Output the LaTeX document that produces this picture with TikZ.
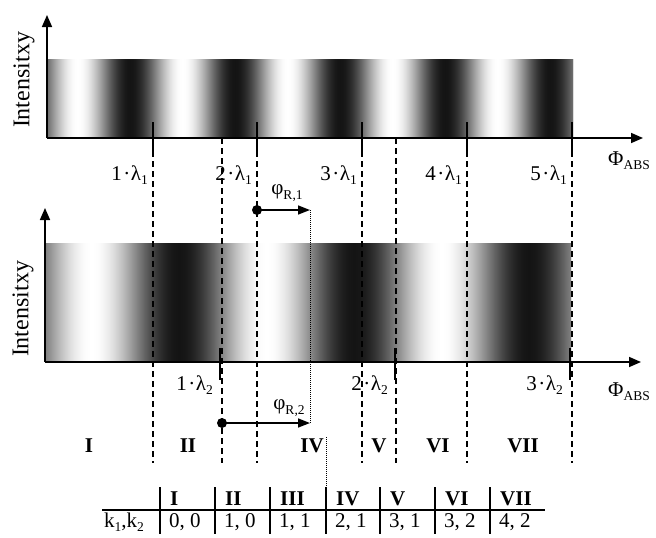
\documentclass[tikz,border=0pt]{standalone}
\usepackage{fontspec}
\setmainfont{Liberation Serif}
\usetikzlibrary{arrows.meta}
\newcommand\figfont{\fontsize{21}{24}\selectfont}
\newcommand\lowsub[1]{\raisebox{-0.22em}{\fontsize{13.5}{14}\selectfont #1}}
\newcommand\mlab[2]{#1\kern1.5pt·\kern0.5ptλ\lowsub{#2}}
\begin{document}
\begin{tikzpicture}[x=1pt,y=-1pt,
  font=\figfont,
  axisline/.style={line width=1.6pt,-{Triangle[length=12pt,width=10pt]}},
  tickmark/.style={line width=1.7pt},
  divider/.style={line width=1.3pt,dash pattern=on 6pt off 4pt},
  guide/.style={line width=0.7pt,dash pattern=on 0.8pt off 1.2pt},
  shiftarrow/.style={line width=1.6pt,-{Triangle[length=12pt,width=9pt]}},
  ticklabel/.style={inner sep=0pt,anchor=base east},
  region/.style={inner sep=0pt,font=\figfont\bfseries},
  cell/.style={inner sep=0pt,anchor=base west},
  ylabel/.style={rotate=90,inner sep=0pt,font=\fontsize{24}{27}\selectfont}]
\useasboundingbox (0,0) rectangle (656,538);

% ---- fringe bands: cosine intensity profiles ----
\begin{scope}
  \clip (47,59) rectangle (573,138);
  \foreach \i in {0,...,526}{
    \pgfmathsetmacro\k{46+46*cos((\i-83)*(360/105))}
    \fill[black!\k] (47+\i,59) rectangle (48.8+\i,138);
  }
\end{scope}
\begin{scope}
  \clip (45,243) rectangle (571,362);
  \foreach \i in {0,...,526}{
    \pgfmathsetmacro\k{46+46*cos((\i-134)*(360/175))}
    \fill[black!\k] (45+\i,243) rectangle (46.8+\i,362);
  }
\end{scope}

% ---- axes ----
\coordinate (oa) at (47,138);
\coordinate (ya) at (47,15);
\coordinate (xa) at (643,138);
\coordinate (ob) at (45,362);
\coordinate (yb) at (45,208);
\coordinate (xb) at (641,362);
\draw[axisline] (oa) -- (ya);
\draw[axisline] (oa) -- (xa);
\draw[axisline] (ob) -- (yb);
\draw[axisline] (ob) -- (xb);

\node[ylabel] (ia) at (24,80) {Intensitxy};
\node[ylabel] (ib) at (23,309) {Intensitxy};
\node[inner sep=0pt,anchor=base west] (pa) at (608,165) {Φ\lowsub{ABS}};
\node[inner sep=0pt,anchor=base west] (pb) at (608,396) {Φ\lowsub{ABS}};

% ---- tick marks and their labels ----
\foreach \x/\n in {153/1,257/2,362/3,467/4,572/5}{
  \coordinate (ta\n) at (\x,122);
  \coordinate (tb\n) at (\x,151);
  \draw[tickmark] (ta\n) -- (tb\n);
  \node[ticklabel] (la\n) at (\x-5,180) {\mlab{\n}{1}};
}
\foreach \x/\n in {220/1,395/2,570/3}{
  \coordinate (sa\n) at (\x,348);
  \coordinate (sb\n) at (\x,380);
  \draw[tickmark] (sa\n) -- (sb\n);
  \node[ticklabel] (lb\n) at (\x-7,390) {\mlab{\n}{2}};
}

% ---- region dividers ----
\foreach \x/\y/\n in {153/151/1,257/151/2,362/151/3,467/151/4,572/151/5,222/138/6,396/138/7}{
  \coordinate (du\n) at (\x,\y);
  \coordinate (dl\n) at (\x,463);
  \draw[divider] (du\n) -- (dl\n);
}

% ---- reference phase shifts ----
\coordinate (r1s) at (257,210);
\coordinate (r1e) at (310,210);
\coordinate (r2s) at (222,423);
\coordinate (r2e) at (310,423);
\draw[guide] (r1e) -- (r2e);
\draw[shiftarrow] (r1s) -- (r1e);
\draw[shiftarrow] (r2s) -- (r2e);
\fill (r1s) circle[radius=5pt];
\fill (r2s) circle[radius=5pt];
\node[inner sep=0pt] (p1) at (287,193) {φ\lowsub{R,1}};
\node[inner sep=0pt] (p2) at (289,408) {φ\lowsub{R,2}};

% ---- region numerals ----
\foreach \x/\t in {89/I,188/II,312/IV,379/V,438/VI,523/VII}{
  \node[region] (reg\t) at (\x,446) {\t};
}

% ---- lookup table ----
\coordinate (gu) at (326,437);
\coordinate (gl) at (326,487);
\draw[guide] (gu) -- (gl);
\coordinate (hl) at (102,510);
\coordinate (hr) at (545,510);
\draw[line width=1.7pt] (hl) -- (hr);
\foreach \x/\h/\v/\n in {160/I/{0, 0}/1,215/II/{1, 0}/2,270/III/{1, 1}/3,326/IV/{2, 1}/4,380/V/{3, 1}/5,435/VI/{3, 2}/6,490/VII/{4, 2}/7}{
  \coordinate (ct\n) at (\x,487);
  \coordinate (cb\n) at (\x,534);
  \draw[line width=1.3pt] (ct\n) -- (cb\n);
  \node[cell,font=\figfont\bfseries] (h\n) at (\x+10,505) {\h};
  \node[cell] (v\n) at (\x+9,527) {\v};
}
\node[cell] (kk) at (104,527) {k\lowsub{1},k\lowsub{2}};
\end{tikzpicture}
\end{document}
